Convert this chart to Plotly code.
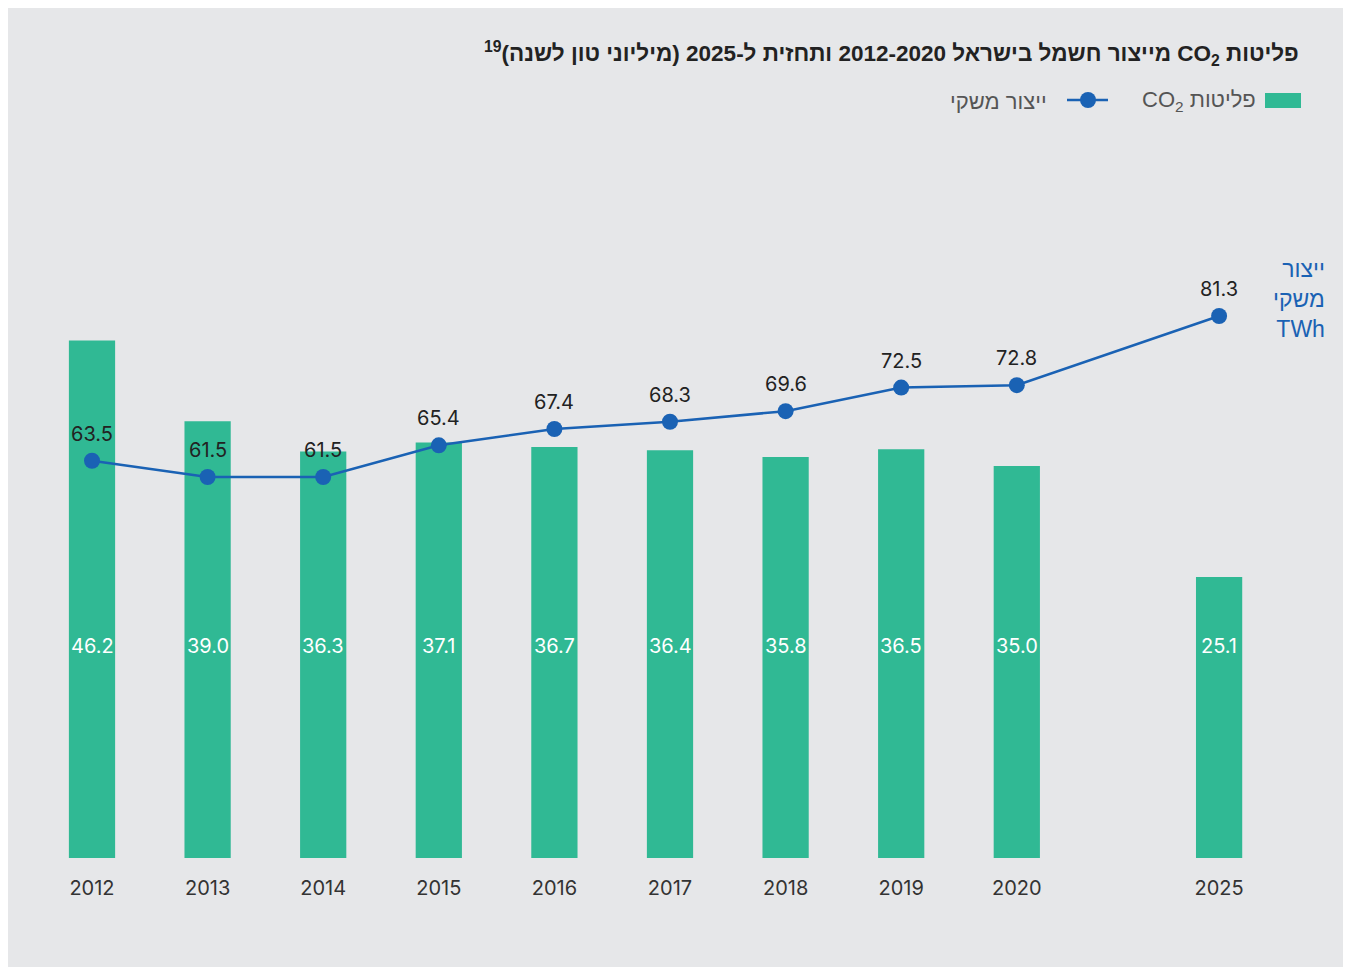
import plotly.graph_objects as go

# ---- data ----
years = ["2012", "2013", "2014", "2015", "2016", "2017", "2018", "2019", "2020", "2025"]
co2_emissions = [46.2, 39.0, 36.3, 37.1, 36.7, 36.4, 35.8, 36.5, 35.0, 25.1]
production_twh = [63.5, 61.5, 61.5, 65.4, 67.4, 68.3, 69.6, 72.5, 72.8, 81.3]

# ---- layout helpers ----
x_pos = [0, 1, 2, 3, 4, 5, 6, 7, 8, 9.75]  # 2025 set apart (gap in timeline)
W, H = 1351, 967
OFF = 8  # page body margin
ML, MR = 12, 71
MT, MB = 192, 117
PW, PH = W - ML - MR, H - MT - MB


def px(x):
    return (x - OFF - ML) / PW


def py(y):
    return (H - MB - (y - OFF)) / PH


GREEN = "#30b994"
BLUE = "#1a62b4"
BG = "#e6e7e9"
HEB = "Liberation Sans, DejaVu Sans, Arial, sans-serif"
NUM = "Inter, Roboto, Liberation Sans, sans-serif"
RLE, PDF = "\u202b", "\u202c"
X0 = 92 - OFF  # pixel of first category
STEP = 115.6

fig = go.Figure()
fig.add_trace(go.Bar(
    x=x_pos, y=co2_emissions, width=0.4, marker=dict(color=GREEN, line=dict(width=0)),
    yaxis="y", hoverinfo="skip", name="CO2",
))
fig.add_trace(go.Scatter(
    x=x_pos, y=production_twh, yaxis="y2", mode="lines+markers",
    line=dict(color=BLUE, width=2.5), marker=dict(color=BLUE, size=16),
    name="TWh",
))

annotations = []
# line value labels
for xp, v in zip(x_pos, production_twh):
    annotations.append(dict(
        x=xp, y=v, xref="x", yref="y2", text=f"{v:.1f}", showarrow=False, yshift=27,
        font=dict(family=NUM, size=20, color="#222222"), xanchor="center", yanchor="middle",
    ))
# bar value labels (white, fixed height inside the bars)
for xp, v in zip(x_pos, co2_emissions):
    annotations.append(dict(
        x=xp, y=py(646), xref="x", yref="paper", text=f"{v:.1f}", showarrow=False,
        font=dict(family=NUM, size=20, color="white"), xanchor="center", yanchor="middle",
    ))

# title
annotations.append(dict(
    x=px(1301), y=py(53), xref="paper", yref="paper", xanchor="right", yanchor="middle",
    text=RLE + "<b>פליטות CO<sub>2</sub> מייצור חשמל בישראל 2012-2020 ותחזית ל-2025 (מיליוני טון לשנה)<sup>19</sup></b>" + PDF,
    showarrow=False, font=dict(family="Liberation Sans, sans-serif", size=22.5, color="#222222"),
))
# legend texts
annotations.append(dict(
    x=px(1258), y=py(101), xref="paper", yref="paper", xanchor="right", yanchor="middle",
    text=RLE + "פליטות CO<sub>2</sub>" + PDF, showarrow=False,
    font=dict(family=HEB, size=22, color="#555555"),
))
annotations.append(dict(
    x=px(1049), y=py(101), xref="paper", yref="paper", xanchor="right", yanchor="middle",
    text=RLE + "ייצור משקי" + PDF, showarrow=False,
    font=dict(family=HEB, size=22, color="#555555"),
))
# right axis label
annotations.append(dict(
    x=px(1327), y=py(299), xref="paper", yref="paper", xanchor="right", yanchor="middle",
    text="ייצור<br>משקי<br>TWh", showarrow=False, align="right",
    font=dict(family=HEB, size=23, color=BLUE),
))

shapes = [
    dict(type="rect", xref="paper", yref="paper", x0=px(1265), x1=px(1301), y0=py(93), y1=py(108),
         fillcolor=GREEN, line=dict(width=0)),
    dict(type="line", xref="paper", yref="paper", x0=px(1067), x1=px(1108), y0=py(100), y1=py(100),
         line=dict(color=BLUE, width=2.5)),
    dict(type="circle", xref="paper", yref="paper", x0=px(1080), x1=px(1096), y0=py(92), y1=py(108),
         fillcolor=BLUE, line=dict(width=0)),
]

fig.update_layout(
    width=W, height=H, margin=dict(l=ML, r=MR, t=MT, b=MB),
    paper_bgcolor=BG, plot_bgcolor=BG, showlegend=False,
    xaxis=dict(range=[(ML - X0) / STEP, (W - MR - X0) / STEP], tickvals=x_pos, ticktext=years,
               showgrid=False, zeroline=False, showline=False, ticks="outside", ticklen=12,
               tickcolor="rgba(0,0,0,0)", tickfont=dict(family=NUM, size=20, color="#333333")),
    yaxis=dict(range=[0, PH / 11.2], visible=False, showgrid=False, fixedrange=True),
    yaxis2=dict(range=[61.5 - (858 - 477) / 8.13, 61.5 - (858 - 477) / 8.13 + PH / 8.13],
                overlaying="y", visible=False, showgrid=False),
    annotations=annotations, shapes=shapes,
)

fig.write_html("out.html")
